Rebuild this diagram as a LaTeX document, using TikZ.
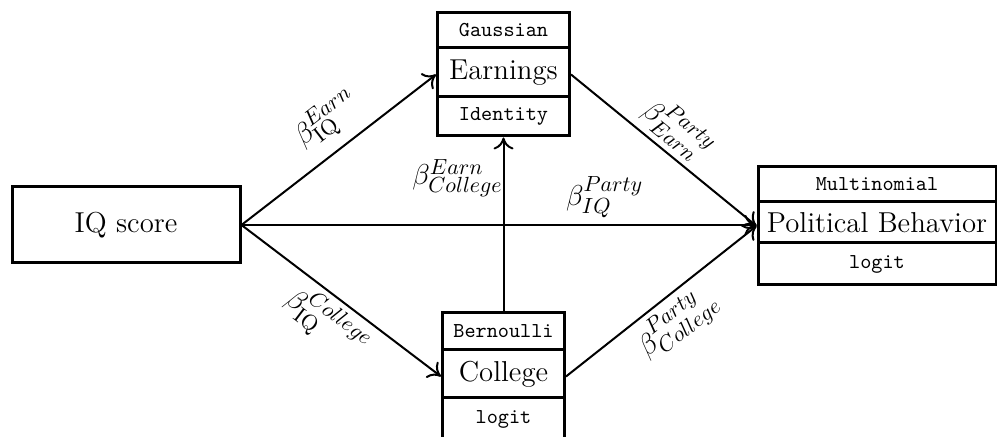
\documentclass[tikz,border=0pt]{standalone}
\usetikzlibrary{fit,arrows.meta}
\begin{document}
\begin{tikzpicture}[x=0.5pt,y=-0.5pt,
  box/.style={draw, line width=1.5pt, inner sep=0pt, anchor=center},
  big/.style={box, font=\Large},
  mono/.style={box, font=\fontsize{10.6}{13}\ttfamily},
  grp/.style={inner sep=0pt, outer sep=0pt},
  conn/.style={line width=1pt, -{To[length=6pt,width=10pt]}},
  lab/.style={font=\fontsize{15.5}{18}\selectfont, inner sep=0pt}
]
\useasboundingbox (0,0) rectangle (997,437);
% IQ score
\node[big, minimum width=114pt, minimum height=38pt] (iq) at (126,225) {IQ score};
% Earnings stack
\node[mono, minimum width=66pt, minimum height=17.5pt] (gauss) at (503.5,30.5) {Gaussian};
\node[big, minimum width=66pt, minimum height=24.5pt] (earn) at (503.5,72.5) {Earnings};
\node[mono, minimum width=66pt, minimum height=19.5pt] (ident) at (503.5,116.5) {Identity};
\node[grp, fit=(gauss)(ident)] (estack) {};
% College stack
\node[mono, minimum width=61pt, minimum height=18.5pt] (bern) at (503.5,331.5) {Bernoulli};
\node[big, minimum width=61pt, minimum height=24pt] (coll) at (503.5,374) {College};
\node[mono, minimum width=61pt, minimum height=21pt] (clogit) at (503.5,419) {logit};
\node[grp, fit=(bern)(clogit)] (cstack) {};
% Political stack
\node[mono, minimum width=119pt, minimum height=17.5pt] (multi) at (877,184.5) {Multinomial};
\node[big, minimum width=119pt, minimum height=20.5pt] (pol) at (877,222.5) {Political Behavior};
\node[mono, minimum width=119pt, minimum height=21pt] (plogit) at (877,264) {logit};
\node[grp, fit=(multi)(plogit)] (pstack) {};
% connectors
\draw[conn] (iq.east) -- node[lab, sloped, pos=0.537, yshift=15.5pt] {$\beta_{\mathrm{IQ}}^{Earn}$} (estack.west);
\draw[conn] (estack.east) -- node[lab, sloped, pos=0.49, yshift=12.5pt] {$\beta_{Earn}^{Party}$} (pstack.west);
\draw[conn] (iq.east) -- node[lab, pos=0.705, yshift=14pt] {$\beta_{IQ}^{Party}$} (iq.east -| pstack.west);
\draw[conn] (iq.east) -- node[lab, sloped, pos=0.507, yshift=-13.6pt] {$\beta_{\mathrm{IQ}}^{College}$} (cstack.west);
\draw[conn] (cstack.east) -- node[lab, sloped, pos=0.495, yshift=-13.6pt] {$\beta_{College}^{Party}$} (pstack.west);
\draw[conn] (bern.north) -- node[lab, pos=0.768, xshift=-23pt] {$\beta_{College}^{Earn}$} (ident.south);
\end{tikzpicture}
\end{document}
